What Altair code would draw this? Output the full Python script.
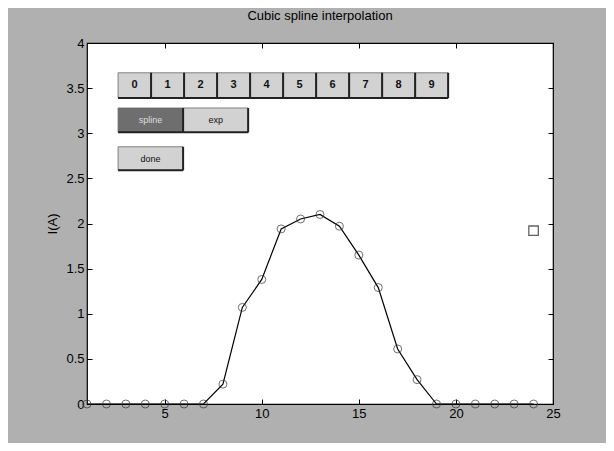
import altair as alt
import pandas as pd

# ---- data ----
x_vals = list(range(1, 25))
y_vals = [0, 0, 0, 0, 0, 0, 0, 0.22, 1.07, 1.38, 1.94, 2.05, 2.10, 1.97,
          1.65, 1.29, 0.61, 0.27, 0, 0, 0, 0, 0, 0]
square_x = [24]
square_y = [1.92]
x_ticks = [5, 10, 15, 20, 25]
y_ticks = [0, 0.5, 1, 1.5, 2, 2.5, 3, 3.5, 4]
digit_labels = ["0", "1", "2", "3", "4", "5", "6", "7", "8", "9"]
mode_labels = ["spline", "exp"]
done_labels = ["done"]

XD = [1, 25]
YD = [0, 4]
FONT = "Liberation Sans"

df = pd.DataFrame({"x": x_vals, "y": y_vals})
sq = pd.DataFrame({"x": square_x, "y": square_y})

# button layout (data units of the axes)
rows = []
for i, lab in enumerate(digit_labels):
    rows.append(dict(label=lab, x0=2.6 + 1.7 * i, x1=2.6 + 1.7 * (i + 1),
                     y0=3.39, y1=3.67, fill="#d2d2d2", tcol="#111", fs=11, fw="bold"))
for i, lab in enumerate(mode_labels):
    rows.append(dict(label=lab, x0=2.6 + 3.35 * i, x1=2.6 + 3.35 * (i + 1),
                     y0=3.01, y1=3.28, fill="#6e6e6e" if i == 0 else "#d2d2d2",
                     tcol="#dddddd" if i == 0 else "#111", fs=9, fw="normal"))
for i, lab in enumerate(done_labels):
    rows.append(dict(label=lab, x0=2.6, x1=5.95, y0=2.59, y1=2.85,
                     fill="#d2d2d2", tcol="#111", fs=9, fw="normal"))
btn = pd.DataFrame(rows)
btn["xm"] = (btn.x0 + btn.x1) / 2
btn["ym"] = (btn.y0 + btn.y1) / 2

xs = alt.Scale(domain=XD, nice=False, zero=False)
ys = alt.Scale(domain=YD, nice=False, zero=False)

x_main = alt.X("x:Q", scale=xs, axis=alt.Axis(values=x_ticks, ticks=False, domain=False,
               grid=False, title=None, labelFont=FONT, labelFontSize=13,
               labelColor="black", labelPadding=3, labelFlush=False))
y_main = alt.Y("y:Q", scale=ys, axis=alt.Axis(values=y_ticks, ticks=False, domain=False,
               grid=False, title="I(A)", format="~g", labelFont=FONT, labelFontSize=13,
               labelColor="black", labelPadding=3, titleFont=FONT, titleFontSize=13,
               titleFontWeight="normal", titleColor="black", titlePadding=6))

line = alt.Chart(df).mark_line(color="black", strokeWidth=1.2).encode(x=x_main, y=y_main)
pts = alt.Chart(df).mark_point(shape="circle", filled=False, size=64, color="#333",
                               strokeWidth=1).encode(x="x:Q", y="y:Q")
sqm = alt.Chart(sq).mark_point(shape="square", filled=False, size=90, color="#222",
                               strokeWidth=1.3).encode(x="x:Q", y="y:Q")

b_rect = alt.Chart(btn).mark_rect(stroke="#666", strokeWidth=0.8).encode(
    x="x0:Q", x2="x1", y="y0:Q", y2="y1", fill=alt.Fill("fill:N", scale=None))
b_bottom = alt.Chart(btn).mark_rule(color="#222", strokeWidth=2).encode(
    x="x0:Q", x2="x1", y="y0:Q")
b_right = alt.Chart(btn).mark_rule(color="#222", strokeWidth=2).encode(
    x="x1:Q", y="y0:Q", y2="y1")
b_text_big = alt.Chart(btn[btn.fs == 11]).mark_text(font=FONT, fontSize=11,
    fontWeight="bold").encode(x="xm:Q", y="ym:Q", text="label:N",
    color=alt.Color("tcol:N", scale=None))
b_text_small = alt.Chart(btn[btn.fs == 9]).mark_text(font=FONT, fontSize=9).encode(
    x="xm:Q", y="ym:Q", text="label:N", color=alt.Color("tcol:N", scale=None))

main = alt.layer(line, b_rect, b_bottom, b_right, b_text_big, b_text_small, pts, sqm)

def tick_layer(xorient, yorient):
    return alt.Chart(df).mark_point(opacity=0).encode(
        x=alt.X("x:Q", scale=xs, axis=alt.Axis(orient=xorient, values=x_ticks,
                labels=False, domain=False, grid=False, title=None, tickSize=5,
                offset=-5, tickColor="black", tickWidth=1)),
        y=alt.Y("y:Q", scale=ys, axis=alt.Axis(orient=yorient, values=y_ticks,
                labels=False, domain=False, grid=False, title=None, tickSize=5,
                offset=-5, tickColor="black", tickWidth=1)),
    )

chart = alt.layer(main, tick_layer("bottom", "left"), tick_layer("top", "right")).resolve_scale(
    x="independent", y="independent"
).properties(
    width=466, height=361,
    title=alt.TitleParams("Cubic spline interpolation", font=FONT, fontSize=13,
                          fontWeight="normal", color="black", anchor="middle", offset=14),
    background="#b0b0b0",
    autosize=alt.AutoSizeParams(type="none"),
    padding={"left": 79, "top": 35, "right": 53, "bottom": 39},
).configure_view(stroke="black", strokeWidth=1.2, fill="white")

chart.save("out.html", embed_options={"renderer": "svg", "actions": False})
